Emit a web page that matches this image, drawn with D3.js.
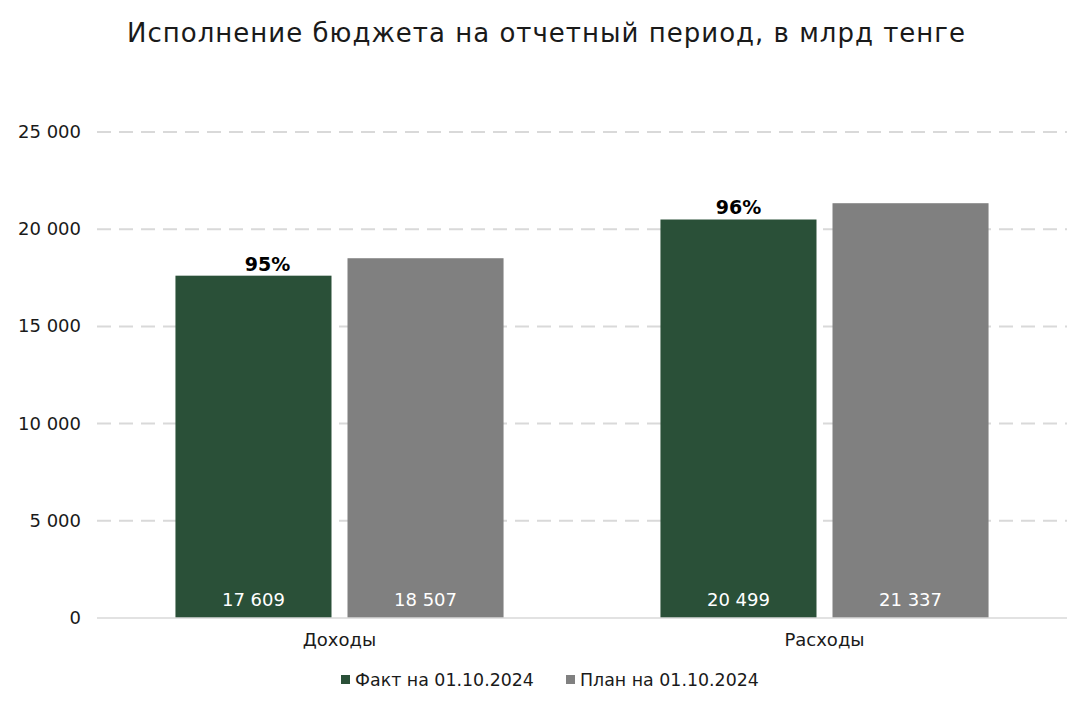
<!DOCTYPE html>
<html>
<head>
<meta charset="utf-8">
<script src="https://cdn.jsdelivr.net/npm/d3@7"></script>
<style>
  body { margin: 0; background: #fff; }
  text { font-family: "DejaVu Sans", sans-serif; }
</style>
</head>
<body>
<div id="chart"></div>
<script>
var categories = ['Доходы', 'Расходы'];
var seriesNames = ['Факт на 01.10.2024', 'План на 01.10.2024'];
var factValues = [17609, 20499];
var planValues = [18507, 21337];
var percentLabels = ['95%', '96%'];
var yTicks = [0, 5000, 10000, 15000, 20000, 25000];
var colors = ['#2a5038', '#808080'];

var width = 1090, height = 709;
var margin = {top: 132, right: 23, bottom: 91, left: 97};

var svg = d3.select('#chart')
    .append('svg')
    .attr('width', width)
    .attr('height', height);

// title
svg.append('text')
    .attr('x', 546)
    .attr('y', 42)
    .attr('text-anchor', 'middle')
    .attr('font-size', 26)
    .attr('fill', '#1a1a1a')
    .attr('textLength', 838)
    .attr('lengthAdjust', 'spacing')
    .text('Исполнение бюджета на отчетный период, в млрд тенге');

var yScale = d3.scaleLinear()
    .domain([0, 25000])
    .range([height - margin.bottom, margin.top]);

var xScale = d3.scaleBand()
    .domain(categories)
    .range([margin.left, width - margin.right]);

var inner = d3.scaleBand()
    .domain(seriesNames)
    .range([0, xScale.bandwidth()])
    .paddingInner(0.093)
    .paddingOuter(0.456);

var fmt = function(v) { return d3.format(',')(v).replace(/,/g, ' '); };

// grid lines
svg.selectAll('line.grid')
    .data(yTicks.filter(function(d) { return d > 0; }))
    .enter()
    .append('line')
    .attr('class', 'grid')
    .attr('x1', margin.left)
    .attr('x2', width - margin.right)
    .attr('y1', yScale)
    .attr('y2', yScale)
    .attr('stroke', '#d9d9d9')
    .attr('stroke-width', 2)
    .attr('stroke-dasharray', '14 8');

// y tick labels
svg.selectAll('text.ytick')
    .data(yTicks)
    .enter()
    .append('text')
    .attr('class', 'ytick')
    .attr('x', 81)
    .attr('y', function(d) { return yScale(d) + 6; })
    .attr('text-anchor', 'end')
    .attr('font-size', 18)
    .attr('fill', '#1a1a1a')
    .text(fmt);

var rows = [];
categories.forEach(function(c, i) {
    rows.push({cat: c, s: seriesNames[0], v: factValues[i], color: colors[0]});
    rows.push({cat: c, s: seriesNames[1], v: planValues[i], color: colors[1]});
});

svg.selectAll('rect.bar')
    .data(rows)
    .enter()
    .append('rect')
    .attr('class', 'bar')
    .attr('x', function(d) { return xScale(d.cat) + inner(d.s); })
    .attr('width', inner.bandwidth())
    .attr('y', function(d) { return yScale(d.v); })
    .attr('height', function(d) { return yScale(0) - yScale(d.v); })
    .attr('fill', function(d) { return d.color; });

// values inside bars
svg.selectAll('text.val')
    .data(rows)
    .enter()
    .append('text')
    .attr('class', 'val')
    .attr('x', function(d) { return xScale(d.cat) + inner(d.s) + inner.bandwidth() / 2; })
    .attr('y', yScale(0) - 12)
    .attr('text-anchor', 'middle')
    .attr('font-size', 18)
    .attr('fill', '#fff')
    .text(function(d) { return fmt(d.v); });

// percent above fact bars (first one sits a bit right in the original)
svg.selectAll('text.pct')
    .data(categories)
    .enter()
    .append('text')
    .attr('class', 'pct')
    .attr('x', function(d, i) { return xScale(d) + inner(seriesNames[0]) + inner.bandwidth() / 2 + (i === 0 ? 14 : 0); })
    .attr('y', function(d, i) { return yScale(factValues[i]) - 5; })
    .attr('text-anchor', 'middle')
    .attr('font-size', 19)
    .attr('font-weight', 'bold')
    .attr('fill', '#000')
    .text(function(d, i) { return percentLabels[i]; });

// baseline
svg.append('line')
    .attr('x1', margin.left)
    .attr('x2', width - margin.right)
    .attr('y1', yScale(0))
    .attr('y2', yScale(0))
    .attr('stroke', '#d9d9d9')
    .attr('stroke-width', 1.5);

// category labels
svg.selectAll('text.cat')
    .data(categories)
    .enter()
    .append('text')
    .attr('class', 'cat')
    .attr('x', function(d) { return xScale(d) + xScale.bandwidth() / 2; })
    .attr('y', 646)
    .attr('text-anchor', 'middle')
    .attr('font-size', 18)
    .attr('fill', '#1a1a1a')
    .text(function(d) { return d; });

// legend
var legendX = [341, 566];
var legend = svg.selectAll('g.legend')
    .data(seriesNames)
    .enter()
    .append('g')
    .attr('class', 'legend')
    .attr('transform', function(d, i) { return 'translate(' + legendX[i] + ',680)'; });

legend.append('rect')
    .attr('x', 0)
    .attr('y', -5)
    .attr('width', 9)
    .attr('height', 9)
    .attr('fill', function(d, i) { return colors[i]; });

legend.append('text')
    .attr('x', 14)
    .attr('y', 6)
    .attr('font-size', 17.4)
    .attr('fill', '#1a1a1a')
    .text(function(d) { return d; });
</script>
</body>
</html>
